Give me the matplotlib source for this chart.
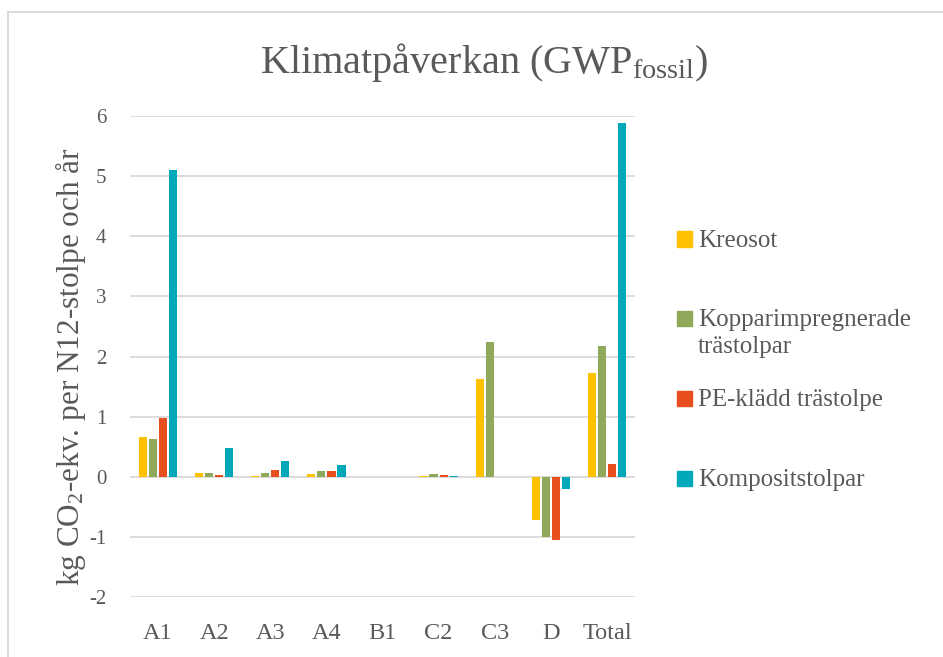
import numpy as np
import matplotlib
matplotlib.use("Agg")
import matplotlib.pyplot as plt
from matplotlib.patches import Rectangle
from matplotlib.lines import Line2D

plt.rcParams['font.family'] = ['Liberation Serif', 'DejaVu Serif']
plt.rcParams['mathtext.fontset'] = 'custom'
plt.rcParams['mathtext.rm'] = 'Liberation Serif'
plt.rcParams['mathtext.it'] = 'Liberation Serif:italic'

# data
categories = ["A1", "A2", "A3", "A4", "B1", "C2", "C3", "D", "Total"]
series_names = ["Kreosot", "Kopparimpregnerade\nträstolpar", "PE-klädd trästolpe", "Kompositstolpar"]
kreosot = [0.66, 0.07, 0.01, 0.05, 0.0, 0.01, 1.62, -0.72, 1.72]
koppar = [0.63, 0.07, 0.06, 0.09, 0.0, 0.05, 2.24, -1.00, 2.17]
pe_kladd = [0.98, 0.03, 0.11, 0.09, 0.0, 0.03, 0.0, -1.05, 0.21]
komposit = [5.11, 0.47, 0.27, 0.19, 0.0, 0.01, 0.0, -0.21, 5.88]
yticks = [-2, -1, 0, 1, 2, 3, 4, 5, 6]

colors = ["#FFC000", "#8FA85A", "#E84E1E", "#00A9B9"]
text_col = "#595959"
grid_col = "#D9D9D9"

W, H = 943, 657
fig = plt.figure(figsize=(W / 100, H / 100), dpi=100)

# axes box in pixels: x 130..635, y 116..597
ax = fig.add_axes([130 / W, 1 - 597 / H, 505 / W, 481 / H])

all_series = [kreosot, koppar, pe_kladd, komposit]
x = np.arange(len(categories))
step = 0.18
width = 0.145
for i, vals in enumerate(all_series):
    ax.bar(x + (i - 1.5) * step, vals, width=width, color=colors[i], zorder=3)

ax.set_xlim(-0.5, len(categories) - 0.5)
ax.set_ylim(-2, 6)
ax.set_yticks(yticks)
ax.set_yticklabels([str(t) for t in yticks])
ax.set_xticks(x)
ax.set_xticklabels(categories)
ax.yaxis.grid(True, color=grid_col, linewidth=1.3, zorder=0)
ax.set_axisbelow(True)
for s in ax.spines.values():
    s.set_visible(False)
ax.tick_params(axis='both', length=0, colors=text_col)
ax.tick_params(axis='y', pad=17, labelsize=15)
ax.tick_params(axis='x', pad=19, labelsize=17.5)

ax.set_ylabel("kg CO$_2$-ekv. per N12-stolpe och år", fontsize=22.5, color=text_col)
ax.yaxis.set_label_coords((88 - 130) / 505, (597 - 367) / 481)

fig.text(484 / W, 1 - 62 / H, "Klimatpåverkan (GWP$_{\\mathrm{fossil}}$)",
         fontsize=29, color=text_col, ha='center', va='center')

# legend drawn by hand, Excel style
leg_y = [239, 318, 398, 478]
for i, name in enumerate(series_names):
    yc = leg_y[i]
    fig.patches.append(Rectangle((677 / W, 1 - (yc + 7.5) / H), 15 / W, 15 / H,
                                 transform=fig.transFigure, color=colors[i]))
    for k, line in enumerate(name.split("\n")):
        fig.text(698 / W, 1 - (yc + 8 + k * 27) / H, line, fontsize=18, color=text_col,
                 ha='left', va='baseline')

# chart border (top and left are visible)
fig.add_artist(Line2D([8 / W, 1], [1 - 12 / H, 1 - 12 / H], transform=fig.transFigure,
                      color=grid_col, linewidth=1.3))
fig.add_artist(Line2D([8 / W, 8 / W], [0, 1 - 12 / H], transform=fig.transFigure,
                      color=grid_col, linewidth=1.3))

fig.savefig("out.png", dpi=100)
